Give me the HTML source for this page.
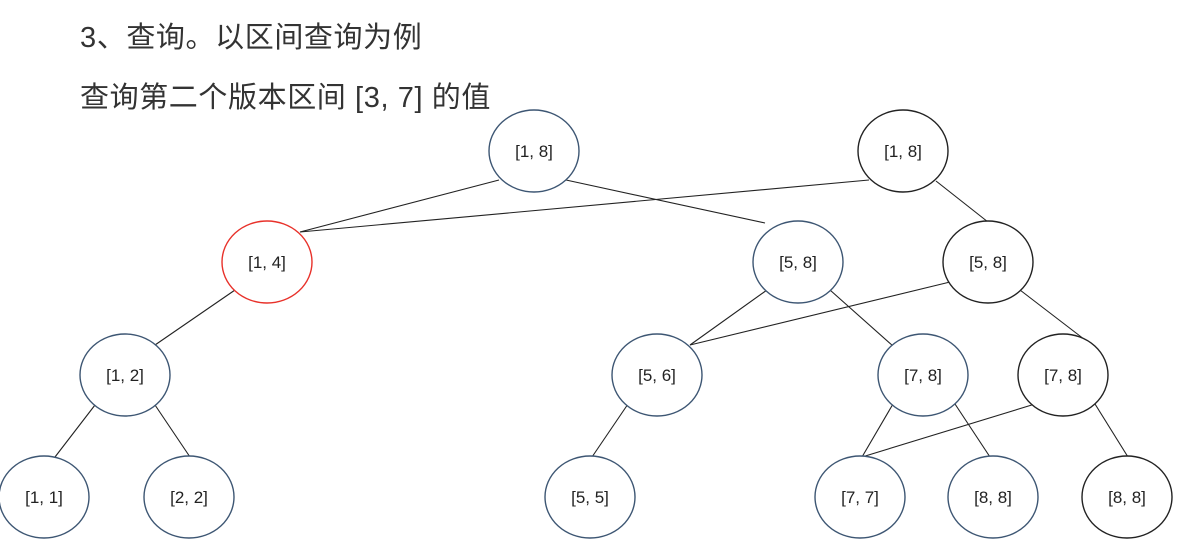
<!DOCTYPE html>
<html><head><meta charset="utf-8"><style>
body{margin:0;width:1200px;height:553px;background:#fff;overflow:hidden;position:relative;font-family:"Liberation Sans","Noto Sans CJK SC",sans-serif}
.t{position:absolute;left:80px;font-size:29px;letter-spacing:0.6px;line-height:40px;color:#333;white-space:nowrap}
</style></head><body>
<div class="t" style="top:18px">3、查询。以区间查询为例</div>
<div class="t" style="top:78px">查询第二个版本区间 [3, 7] 的值</div>
<svg width="1200" height="553" style="position:absolute;left:0;top:0" font-family="Liberation Sans, sans-serif" font-size="17">
<g stroke="#222" stroke-width="1.1">
<line x1="499" y1="180" x2="300" y2="232"/>
<line x1="869" y1="180" x2="300" y2="232"/>
<line x1="566" y1="180" x2="765" y2="223"/>
<line x1="936" y1="181" x2="988" y2="222"/>
<line x1="235" y1="290" x2="155" y2="345"/>
<line x1="767" y1="290" x2="690" y2="345"/>
<line x1="950" y1="282" x2="690" y2="345"/>
<line x1="830" y1="290" x2="893" y2="346"/>
<line x1="1020" y1="290" x2="1093" y2="346"/>
<line x1="95" y1="405" x2="55" y2="457"/>
<line x1="155" y1="405" x2="190" y2="457"/>
<line x1="628" y1="404" x2="592" y2="457"/>
<line x1="893" y1="404" x2="862" y2="457"/>
<line x1="1035" y1="404" x2="862" y2="457"/>
<line x1="955" y1="404" x2="990" y2="457"/>
<line x1="1095" y1="404" x2="1128" y2="457"/>
</g>
<g fill="#fff" stroke-width="1.4">
<ellipse cx="534" cy="151" rx="45" ry="41" stroke="#3d5673"/>
<ellipse cx="903" cy="151" rx="45" ry="41" stroke="#222"/>
<ellipse cx="267" cy="262" rx="45" ry="41" stroke="#e8312a"/>
<ellipse cx="798" cy="262" rx="45" ry="41" stroke="#3d5673"/>
<ellipse cx="988" cy="262" rx="45" ry="41" stroke="#222"/>
<ellipse cx="125" cy="375" rx="45" ry="41" stroke="#3d5673"/>
<ellipse cx="657" cy="375" rx="45" ry="41" stroke="#3d5673"/>
<ellipse cx="923" cy="375" rx="45" ry="41" stroke="#3d5673"/>
<ellipse cx="1063" cy="375" rx="45" ry="41" stroke="#222"/>
<ellipse cx="44" cy="497" rx="45" ry="41" stroke="#3d5673"/>
<ellipse cx="189" cy="497" rx="45" ry="41" stroke="#3d5673"/>
<ellipse cx="590" cy="497" rx="45" ry="41" stroke="#3d5673"/>
<ellipse cx="860" cy="497" rx="45" ry="41" stroke="#3d5673"/>
<ellipse cx="993" cy="497" rx="45" ry="41" stroke="#3d5673"/>
<ellipse cx="1127" cy="497" rx="45" ry="41" stroke="#222"/>
</g>
<g fill="#222" text-anchor="middle">
<text x="534" y="157">[1, 8]</text>
<text x="903" y="157">[1, 8]</text>
<text x="267" y="268">[1, 4]</text>
<text x="798" y="268">[5, 8]</text>
<text x="988" y="268">[5, 8]</text>
<text x="125" y="381">[1, 2]</text>
<text x="657" y="381">[5, 6]</text>
<text x="923" y="381">[7, 8]</text>
<text x="1063" y="381">[7, 8]</text>
<text x="44" y="503">[1, 1]</text>
<text x="189" y="503">[2, 2]</text>
<text x="590" y="503">[5, 5]</text>
<text x="860" y="503">[7, 7]</text>
<text x="993" y="503">[8, 8]</text>
<text x="1127" y="503">[8, 8]</text>
</g>
</svg>
</body></html>
